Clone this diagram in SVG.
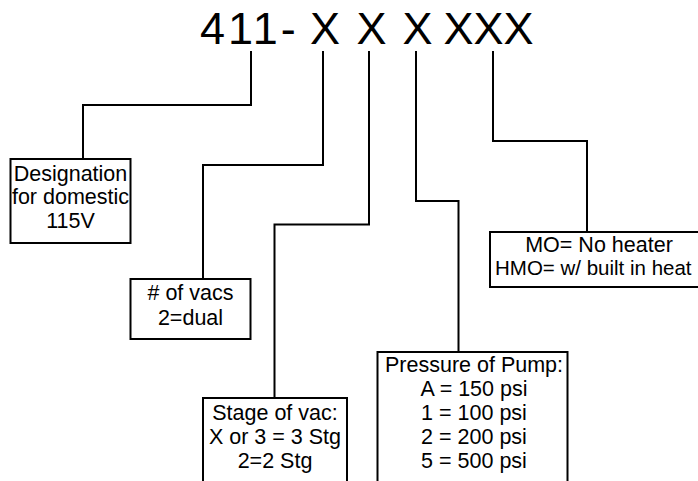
<svg xmlns="http://www.w3.org/2000/svg" width="698" height="481" viewBox="0 0 698 481">
<style>
  .box{fill:#fff;stroke:#000;stroke-width:2}
  .conn{fill:none;stroke:#000;stroke-width:2}
  text{font-family:"Liberation Sans",Arial,sans-serif;font-size:21.5px;fill:#000}
  .c{text-anchor:middle}
  .title{font-size:45px}
  .small{font-size:20.5px}
</style>
<rect width="698" height="481" fill="#fff"/>
<g id="title">
  <text class="title" x="200" y="44" letter-spacing="3">411-</text>
  <text class="title c" x="325" y="44">X</text>
  <text class="title c" x="371.5" y="44">X</text>
  <text class="title c" x="417.5" y="44">X</text>
  <text class="title c" x="488.5" y="44">XXX</text>
</g>
<g id="connectors">
  <path class="conn" d="M251 51 V105 H83 V159"/>
  <path class="conn" d="M323 51 V165 H203 V279"/>
  <path class="conn" d="M369 51 V224.5 H274.5 V398"/>
  <path class="conn" d="M416 51 V201 H458.5 V352"/>
  <path class="conn" d="M493 51 V141 H587 V232"/>
</g>
<g id="designation">
  <rect class="box" x="10.5" y="159" width="120" height="84"/>
  <text class="c" x="70.5" y="181">Designation</text>
  <text class="c" x="70.5" y="204">for domestic</text>
  <text class="c" x="70.5" y="228">115V</text>
</g>
<g id="vacs">
  <rect class="box" x="130.5" y="279" width="120" height="60"/>
  <text class="c" x="190.5" y="300"># of vacs</text>
  <text class="c" x="190.5" y="325">2=dual</text>
</g>
<g id="stage">
  <rect class="box" x="203" y="398" width="144" height="100"/>
  <text class="c" x="275" y="419.5">Stage of vac:</text>
  <text class="c" x="275" y="443.5">X or 3 = 3 Stg</text>
  <text class="c" x="275" y="467.5">2=2 Stg</text>
</g>
<g id="pressure">
  <rect class="box" x="377.5" y="352" width="190" height="146"/>
  <text class="c" x="474" y="372">Pressure of Pump:</text>
  <text class="c" x="474" y="396">A = 150 psi</text>
  <text class="c" x="474" y="420">1 = 100 psi</text>
  <text class="c" x="474" y="444">2 = 200 psi</text>
  <text class="c" x="474" y="468">5 = 500 psi</text>
</g>
<g id="heater">
  <rect class="box" x="490" y="232" width="209" height="55"/>
  <text class="c" x="599" y="252">MO= No heater</text>
  <text class="small" x="495" y="275">HMO= w/ built in heat</text>
</g>
</svg>
